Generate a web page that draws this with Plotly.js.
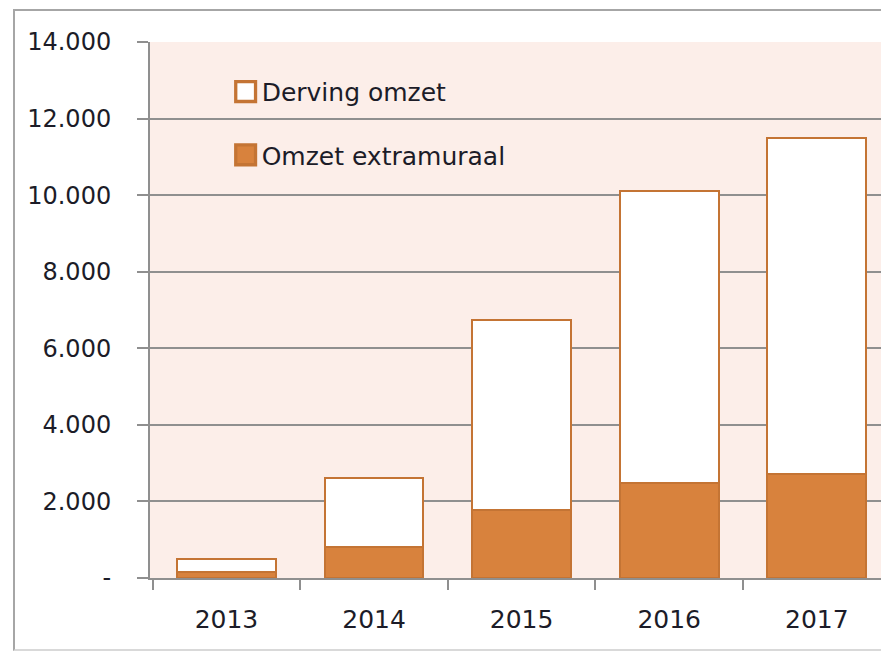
<!DOCTYPE html>
<html>
<head>
<meta charset="utf-8">
<script src="https://cdn.plot.ly/plotly-3.0.1.min.js"></script>
<style>
  html, body { margin: 0; padding: 0; background: #ffffff; overflow: hidden; }
  #wrap { position: relative; width: 881px; height: 654px; }
  #chart { position: absolute; left: 0; top: 0; width: 881px; height: 654px; }
  #frame { position: absolute; left: 13px; top: 9px; width: 880px; height: 642px;
           border-left: 2px solid #a6a6a6; border-top: 2px solid #a6a6a6; border-bottom: 2px solid #d9d9d9;
           pointer-events: none; box-sizing: border-box; }
</style>
</head>
<body>
<div id="wrap">
  <div id="chart"></div>
  <div id="frame"></div>
</div>
<script>
// Data
const years = ["2013", "2014", "2015", "2016", "2017"];
const omzetExtramuraal = [150, 810, 1780, 2480, 2720];
const dervingOmzet = [350, 1790, 4960, 7620, 8770];
const yTickVals = [0, 2000, 4000, 6000, 8000, 10000, 12000, 14000];
const yTickText = ["-", "2.000", "4.000", "6.000", "8.000", "10.000", "12.000", "14.000"];
const seriesNames = ["Omzet extramuraal", "Derving omzet"];

const orange = "#D8823D";
const orangeLine = "#C47434";
const textColor = "#1c1c28";
const gridColor = "#8f8f8f";
const fontFam = "DejaVu Sans, Verdana, sans-serif";

const traces = [
  {
    type: "bar",
    x: years,
    y: omzetExtramuraal,
    name: seriesNames[0],
    width: 0.67,
    marker: { color: orange, line: { color: orangeLine, width: 2 } },
    legend: "legend2",
    hoverinfo: "x+y+name"
  },
  {
    type: "bar",
    x: years,
    y: dervingOmzet,
    name: seriesNames[1],
    width: 0.67,
    marker: { color: "#ffffff", line: { color: orangeLine, width: 2 } },
    legend: "legend",
    hoverinfo: "x+y+name"
  }
];

const layout = {
  width: 881,
  height: 654,
  margin: { l: 150, r: 0, t: 42, b: 76 },
  paper_bgcolor: "rgba(0,0,0,0)",
  plot_bgcolor: "#FCEEE9",
  barmode: "stack",
  font: { family: fontFam, color: textColor },
  xaxis: {
    type: "category",
    range: [-0.518, 4.435],
    showline: true,
    linecolor: gridColor,
    linewidth: 2,
    ticks: "outside",
    tickson: "boundaries",
    ticklen: 10,
    tickwidth: 2,
    tickcolor: gridColor,
    showgrid: false,
    tickfont: { size: 25, family: fontFam, color: textColor },
    ticklabelstandoff: 18,
    fixedrange: true
  },
  yaxis: {
    range: [0, 14000],
    tickvals: yTickVals,
    ticktext: yTickText,
    showline: true,
    linecolor: gridColor,
    linewidth: 2,
    ticks: "outside",
    ticklen: 11,
    tickwidth: 2,
    tickcolor: gridColor,
    showgrid: true,
    gridcolor: gridColor,
    gridwidth: 2,
    zeroline: false,
    tickfont: { size: 24, family: fontFam, color: textColor },
    ticklabelstandoff: 21,
    fixedrange: true
  },
  legend: {
    x: 0.098, y: 0.907, xanchor: "left", yanchor: "middle",
    bgcolor: "rgba(0,0,0,0)",
    font: { size: 25, family: fontFam, color: textColor },
    itemclick: false, itemdoubleclick: false
  },
  legend2: {
    x: 0.098, y: 0.789, xanchor: "left", yanchor: "middle",
    bgcolor: "rgba(0,0,0,0)",
    font: { size: 25, family: fontFam, color: textColor },
    itemclick: false, itemdoubleclick: false
  },
  showlegend: true
};

Plotly.newPlot("chart", traces, layout, { displayModeBar: false }).then(function (gd) {
  // enlarge legend swatches to match the reference's bigger squares
  gd.querySelectorAll(".legendpoints path").forEach(function (p) {
    p.setAttribute("transform", "translate(24,0) scale(1.65)");
  });
});
</script>
</body>
</html>
